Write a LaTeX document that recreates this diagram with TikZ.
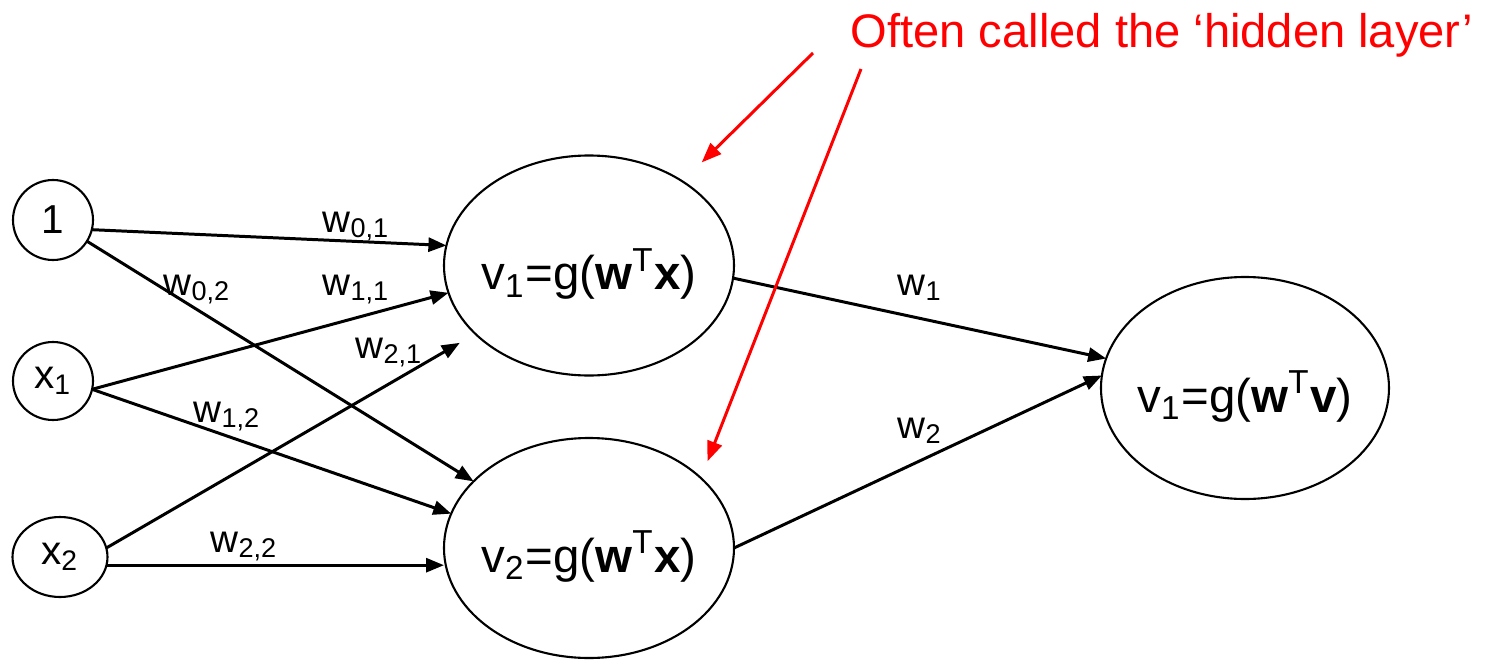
\documentclass[tikz,border=0pt]{standalone}
\usepackage{fontspec}
\setmainfont{Liberation Sans}
\usetikzlibrary{arrows.meta,shapes.geometric}

\begin{document}
\begin{tikzpicture}[
  innode/.style={draw, ellipse, line width=0.6pt, inner sep=0pt, outer sep=0pt, font=\fontsize{11.5}{13}\selectfont},
  hidnode/.style={draw, ellipse, line width=0.6pt, inner ysep=0pt, inner xsep=-1mm, outer sep=0pt, minimum width=2.9cm, minimum height=2.2cm, text height=4.8mm, text depth=0mm, font=\fontsize{13.5}{16}\selectfont},
  wt/.style={anchor=base west, inner sep=0pt, font=\fontsize{11}{13}\selectfont},
  link/.style={line width=0.85pt, -{Triangle[length=1.8mm,width=1.4mm]}},
  hintarrow/.style={red, line width=0.85pt, -{Triangle[length=2mm,width=1.5mm]}}
]
\useasboundingbox (0,0) rectangle (14.88,6.60);

\node[innode, minimum width=0.8cm, minimum height=0.8cm] (one) at (0.53,4.40) {1};
\node[innode, minimum width=0.8cm, minimum height=0.78cm] (x1) at (0.53,2.79) {x\textsubscript{1}};
\node[innode, minimum width=0.95cm, minimum height=0.8cm] (x2) at (0.60,1.03) {x\textsubscript{2}};

\node[hidnode] (v1) at (5.89,3.945) {v\textsubscript{1}=g(\textbf{w}\textsuperscript{T}\textbf{x})};
\node[hidnode] (v2) at (5.89,1.12) {v\textsubscript{2}=g(\textbf{w}\textsuperscript{T}\textbf{x})};
\node[hidnode, minimum width=2.88cm, minimum height=2.22cm] (out) at (12.45,2.72) {v\textsubscript{1}=g(\textbf{w}\textsuperscript{T}\textbf{v})};

\node[anchor=base west, inner sep=0pt, red, font=\fontsize{13.4}{16}\selectfont] (hint) at (8.50,6.13) {Often called the ‘hidden layer’};
\coordinate (ha) at (8.13,6.07);
\coordinate (hb) at (8.61,5.91);

\draw[link] (one.-14) -- (v1.172);
\draw[link] (one.-32) -- (v2.150);
\draw[link] (x1.-12) -- (v1.191);
\draw[link] (x1.-12) -- (v2.166);
\draw[link, shorten >=1.8mm] (x2.11) -- (v1.211);
\draw[link] (x2.-10) -- (x2.-10 -| v2.west);
\draw[link] (v1.-5) -- (out.168);
\draw[link] (v2.east) -- (out.175);

\draw[hintarrow, shorten >=2.7mm] (ha) -- (v1.42);
\draw[hintarrow, shorten >=1.8mm] (hb) -- (v2.32);

\node[wt] (w01) at (3.22,4.28) {w\textsubscript{0,1}};
\node[wt] (w02) at (1.63,3.65) {w\textsubscript{0,2}};
\node[wt] (w11) at (3.22,3.65) {w\textsubscript{1,1}};
\node[wt] (w21) at (3.55,3.02) {w\textsubscript{2,1}};
\node[wt] (w12) at (1.93,2.38) {w\textsubscript{1,2}};
\node[wt] (w22) at (2.10,1.08) {w\textsubscript{2,2}};
\node[wt] (w1) at (8.97,3.65) {w\textsubscript{1}};
\node[wt] (w2) at (8.97,2.22) {w\textsubscript{2}};
\end{tikzpicture}
\end{document}
